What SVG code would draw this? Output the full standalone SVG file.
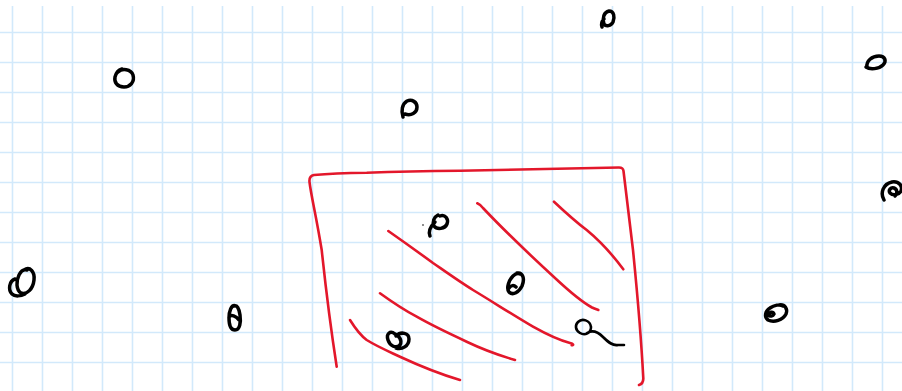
<svg xmlns="http://www.w3.org/2000/svg" width="902" height="391" viewBox="0 0 902 391">
<defs>
<style>
.grid line{stroke:#d2e9fb;stroke-width:1.6}
.red{fill:none;stroke:#e3172b;stroke-width:2.6;stroke-linecap:round;stroke-linejoin:round}
.ink{fill:none;stroke:#000;stroke-width:3.5;stroke-linecap:round;stroke-linejoin:round}
</style>
</defs>
<rect width="902" height="391" fill="#fff"/>
<g class="grid" id="grid">
<line x1="12.5" y1="6" x2="12.5" y2="391"/><line x1="42.5" y1="6" x2="42.5" y2="391"/><line x1="72.5" y1="6" x2="72.5" y2="391"/><line x1="102.5" y1="6" x2="102.5" y2="391"/><line x1="132.5" y1="6" x2="132.5" y2="391"/><line x1="162.5" y1="6" x2="162.5" y2="391"/><line x1="192.5" y1="6" x2="192.5" y2="391"/><line x1="222.5" y1="6" x2="222.5" y2="391"/><line x1="252.5" y1="6" x2="252.5" y2="391"/><line x1="282.5" y1="6" x2="282.5" y2="391"/><line x1="312.5" y1="6" x2="312.5" y2="391"/><line x1="342.5" y1="6" x2="342.5" y2="391"/><line x1="372.5" y1="6" x2="372.5" y2="391"/><line x1="402.5" y1="6" x2="402.5" y2="391"/><line x1="432.5" y1="6" x2="432.5" y2="391"/><line x1="462.5" y1="6" x2="462.5" y2="391"/><line x1="492.5" y1="6" x2="492.5" y2="391"/><line x1="522.5" y1="6" x2="522.5" y2="391"/><line x1="552.5" y1="6" x2="552.5" y2="391"/><line x1="582.5" y1="6" x2="582.5" y2="391"/><line x1="612.5" y1="6" x2="612.5" y2="391"/><line x1="642.5" y1="6" x2="642.5" y2="391"/><line x1="672.5" y1="6" x2="672.5" y2="391"/><line x1="702.5" y1="6" x2="702.5" y2="391"/><line x1="732.5" y1="6" x2="732.5" y2="391"/><line x1="762.5" y1="6" x2="762.5" y2="391"/><line x1="792.5" y1="6" x2="792.5" y2="391"/><line x1="822.5" y1="6" x2="822.5" y2="391"/><line x1="852.5" y1="6" x2="852.5" y2="391"/><line x1="882.5" y1="6" x2="882.5" y2="391"/>
<line x1="0" y1="32.5" x2="902" y2="32.5"/><line x1="0" y1="62.5" x2="902" y2="62.5"/><line x1="0" y1="92.5" x2="902" y2="92.5"/><line x1="0" y1="122.5" x2="902" y2="122.5"/><line x1="0" y1="152.5" x2="902" y2="152.5"/><line x1="0" y1="182.5" x2="902" y2="182.5"/><line x1="0" y1="212.5" x2="902" y2="212.5"/><line x1="0" y1="242.5" x2="902" y2="242.5"/><line x1="0" y1="272.5" x2="902" y2="272.5"/><line x1="0" y1="302.5" x2="902" y2="302.5"/><line x1="0" y1="332.5" x2="902" y2="332.5"/><line x1="0" y1="362.5" x2="902" y2="362.5"/>
</g>
<g id="hatched-box">
<path class="red" d="M336.7,366.7 C331,330 327,300 321.7,250 C316,215 311,195 309.5,182 C309,177 311,175.5 314,175 C330,173.5 345,173 366.7,172.7 C400,171.5 430,171 460,170.7 C520,169.5 570,168.5 619,167.5 C622,167.5 623.3,169 623.5,171 C627,200 630,225 633,250 C637,290 641,335 643.3,378 C643.5,382 642,384 639,385"/>
<path class="red" d="M350,320 C355,328 360,335 366.7,340 C378,347 390,352 400,356.7 C420,366 440,374 460,380"/>
<path class="red" d="M380,293.3 C392,302 404,310 416.7,316.7 C433,326 450,334 466.7,341.7 C482,349 498,355 515,360"/>
<path class="red" d="M388.3,231 C404,242 418,252 433,263 C446,272 460,282 473,290 C493,302 513,315 533,326.7 C546,334 558,340 570,343 C573.5,343.8 574,345 571.7,345.3"/>
<path class="red" d="M477.3,203.3 C479,204 481,205.5 483,208 C500,226 530,255 555,278 C570,292 582,302 592,307.5 C595,309 597,309.5 598.3,310"/>
<path class="red" d="M554,201.7 C565,212 576,222 586.7,230 C600,241 612,254 623.3,269.3"/>
</g>
<g id="marks">
<path id="m1" class="ink" d="M118,72 C122,68 131,69 133,75 C135,82 130,87 124,87 C117,87 114,82 115,77 C116,73 119,70 122,69"/>
<path id="m2" class="ink" d="M403,117 C401,111 402,104 407,101 C412,99 417,102 417,107 C417,113 411,116 405,114"/>
<path id="m3" class="ink" d="M604,24 C602,18 604,12 609,11 C614,11 615,17 613,22 C611,26 606,27 604,24 M602,27 C601,24 602,21 604,19"/>
<path id="m4" class="ink" d="M867,67 C866,61 872,56 879,56 C885,56 887,61 883,65 C879,69 870,70 866,67"/>
<path id="m5" class="ink" d="M884,200 C880,193 883,184 892,182 C899,181 903,186 901,191 C899,195 893,196 890,193 C888,190 891,187 894,188 C897,189 898,193 895,196"/>
<path id="m6" class="ink" d="M24,270 C30,266 35,272 34,280 C33,289 27,295 21,293 C16,290 16,281 19,275 C21,271 24,269 27,270 M15,279 C9,281 8,290 12,294 C15,297 21,296 25,294"/>
<path id="m7" class="ink" d="M236,306 C231,304 229,312 229,318 C229,325 231,330 235,330 C240,330 241,322 240,315 C239,308 237,305 234,306 M229,317 C231,314 236,316 239,320"/>
<path id="m8" class="ink" d="M440,216 C445,214 449,219 447,224 C445,229 437,230 434,226 C432,222 434,217 438,215 M435,222 C431,226 428,231 430,236"/>
<circle cx="423" cy="225" r="0.8" fill="#000"/>
<path id="m9" class="ink" d="M517,273 C523,272 525,279 522,286 C519,292 513,296 509,292 C506,288 509,280 513,276 C515,274 518,273 520,274 M509,288 C511,285 514,285 516,287"/>
<path id="m10" class="ink" d="M395,334 C390,330 386,334 388,340 C390,346 396,349 400,345 C403,340 398,335 395,334 M396,336 C401,331 409,333 409,339 C409,346 402,350 396,348"/>
<path id="m11" class="ink" d="M578,322 C582,318 590,320 591,327 C591,333 585,336 580,333 C575,330 575,325 578,322 M587,333 C592,330 597,331 603,337 C609,343 613,346 618,345 L624,345" style="stroke-width:2.6"/>
<path id="m12" class="ink" d="M779,305 C785,304 788,309 786,314 C783,320 774,323 768,320 C764,317 765,311 770,308 C774,305 780,304 783,306 M768,315 C769,312 773,311 774,314 C773,316 770,317 768,315"/>
</g>
</svg>
